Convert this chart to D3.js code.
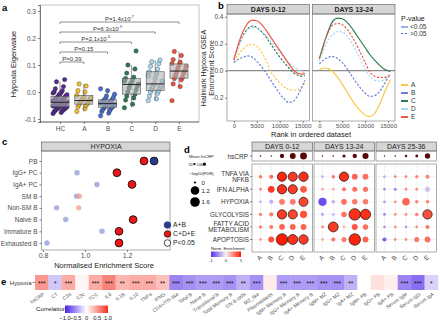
<!DOCTYPE html>
<html lang="en">
<head>
<meta charset="utf-8">
<title>Hypoxia multi-panel figure</title>
<script src="https://d3js.org/d3.v7.min.js"></script>
<style>
body { margin: 0; background: #fff; }
</style>
</head>
<body>
<script>
// ---------- data ----------
// panel a
const groups = ["HC", "A", "B", "C", "D", "E"];
const groupColors = ["#562a93", "#f5c02e", "#4c6fd6", "#2e7a55", "#a9d9f2", "#f0533b"];
const eigenHC = [-0.08, -0.076, -0.073, -0.07, -0.068, -0.066, -0.064, -0.062, -0.06, -0.058, -0.057, -0.055, -0.054, -0.052,
  -0.05, -0.049, -0.048, -0.046, -0.045, -0.044, -0.043, -0.042, -0.04, -0.038, -0.036, -0.035, -0.033, -0.031, -0.03,
  -0.028, -0.026, -0.024, -0.022, -0.02, -0.018, -0.015, -0.012, -0.01, -0.007, -0.004, -0.002, 0.0, 0.005, 0.012, 0.02, 0.038, 0.046];
const eigenA = [-0.072, -0.062, -0.055, -0.05, -0.046, -0.042, -0.038, -0.035, -0.033, -0.03, -0.026, -0.022, -0.018, -0.012, 0.0, 0.005, 0.022, 0.03];
const eigenB = [-0.088, -0.078, -0.072, -0.068, -0.064, -0.06, -0.058, -0.056, -0.053, -0.05, -0.048, -0.046, -0.045, -0.043,
  -0.041, -0.039, -0.037, -0.035, -0.033, -0.03, -0.028, -0.025, -0.02, -0.015, -0.008, 0.005, 0.012];
const eigenC = [-0.058, -0.045, -0.03, -0.022, -0.015, -0.008, 0.0, 0.008, 0.015, 0.022, 0.028, 0.03, 0.034, 0.04, 0.045, 0.05, 0.055, 0.07, 0.085, 0.1, 0.152];
const eigenD = [-0.032, -0.025, -0.015, -0.005, 0.0, 0.005, 0.01, 0.015, 0.02, 0.022, 0.03, 0.04, 0.05, 0.06, 0.068, 0.075, 0.085, 0.095, 0.105, 0.112, 0.118];
const eigenE = [-0.032, 0.02, 0.03, 0.045, 0.05, 0.055, 0.062, 0.07, 0.075, 0.08, 0.088, 0.095, 0.1, 0.105, 0.11, 0.12, 0.135, 0.15];
const pLabels = [["P=0.39", ""], ["P=0.15", ""], ["P=2.1x10", "-6"], ["P=6.3x10", "-9"], ["P=1.4x10", "-7"]];
const pHeights = [0.111, 0.148, 0.185, 0.222, 0.259];

// panel b
const ranks = [0, 1000, 2000, 3000, 4000, 5000, 6000, 7000, 8000, 9000, 10000, 11000, 12000, 13000, 14000, 15000, 15500];
const esDays0A = [0.07, 0.12, 0.16, 0.19, 0.195, 0.18, 0.14, 0.08, -0.005, -0.05, -0.09, -0.12, -0.14, -0.145, -0.14, -0.11, -0.09];
const esDays0B = [0.06, 0.085, 0.1, 0.11, 0.1, 0.07, 0.03, -0.015, -0.07, -0.12, -0.17, -0.21, -0.235, -0.225, -0.18, -0.11, -0.07];
const esDays0C = [0.08, 0.18, 0.26, 0.31, 0.33, 0.32, 0.29, 0.25, 0.2, 0.15, 0.1, 0.06, 0.02, -0.015, -0.035, -0.04, -0.035];
const esDays0D = [0.08, 0.17, 0.25, 0.3, 0.32, 0.315, 0.29, 0.26, 0.22, 0.18, 0.14, 0.1, 0.06, 0.03, 0.01, -0.01, -0.02];
const esDays0E = [0.08, 0.2, 0.29, 0.35, 0.375, 0.37, 0.345, 0.3, 0.25, 0.2, 0.15, 0.1, 0.05, 0.005, -0.02, -0.025, -0.02];
const esDays13A = [0.005, 0.02, 0.015, -0.01, -0.05, -0.1, -0.155, -0.21, -0.26, -0.3, -0.33, -0.34, -0.32, -0.26, -0.18, -0.1, -0.065];
const esDays13B = [0.05, 0.08, 0.1, 0.105, 0.09, 0.06, 0.015, -0.035, -0.085, -0.13, -0.165, -0.19, -0.185, -0.16, -0.11, -0.05, -0.03];
const esDays13C = [0.09, 0.2, 0.3, 0.37, 0.39, 0.385, 0.36, 0.32, 0.27, 0.22, 0.17, 0.12, 0.08, 0.045, 0.015, 0.0, -0.005];
const esDays13D = [0.07, 0.16, 0.23, 0.27, 0.29, 0.285, 0.26, 0.21, 0.15, 0.08, 0.01, -0.04, -0.07, -0.078, -0.07, -0.045, -0.03];
const esDays13E = [0.09, 0.2, 0.29, 0.34, 0.35, 0.34, 0.31, 0.26, 0.2, 0.13, 0.06, -0.01, -0.04, -0.05, -0.05, -0.04, -0.03];
const sigDays0 = ["E"];
const sigDays13 = ["A", "C"];
const lineColors = ["#f7c948", "#6a7fd6", "#2e7a55", "#a9d9f2", "#ee5a45"];

// panel c
const cellTypes = ["PB", "IgG+ PC", "IgA+ PC", "SM B", "Non-SM B", "Naive B", "Immature B", "Exhausted B"];
const nesAB = [1.329, 0.962, 1.057, 0.96, 0.865, 0.908, 1.081, 0.819];
const nesCDE = [1.281, 1.152, 1.224, 0.973, 0.97, 1.229, 1.162, 1.162];
const sigAB = [1, 0, 0, 0, 0, 0, 0, 0];
const sigCDE = [1, 1, 1, 0, 0, 1, 1, 1];

// panel d
const pathways = ["TNFA VIA|NFKB", "IFN ALPHA", "HYPOXIA", "GLYCOLYSIS", "FATTY ACID|METABOLISM", "APOPTOSIS"];
const dayWindows = ["DAYS 0-12", "DAYS 13-24", "DAYS 25-36"];
const severity = ["A", "B", "C", "D", "E"];
const meanCRP = [[25, 20, 182, 342, 462], [20, 25, 100, 182, 361], [20, 25, 56, 81, 272]];
const nesDays0 = [[0.55, 0.6, 0.95, 0.85, 0.9], [0.45, 0.85, 0.9, 0.85, 0.7], [-0.3, -0.35, 0.55, 0.55, 0.8],
  [0.5, 0.55, 0.85, 0.8, 0.75], [0.5, 0.55, 0.65, 0.65, 0.65], [0.4, 0.75, 1.0, 0.9, 0.85]];
const nesDays13 = [[-0.3, 0.55, 0.9, 0.65, 0.6], [0.3, 0.3, 0.55, 0.6, 0.6], [-0.85, -0.35, 0.6, 0.55, 0.55],
  [-0.45, -0.3, 0.6, 0.9, 0.9], [0.5, 0.85, 0.25, 0.7, 0.6], [0.3, 0.55, 0.55, 0.95, 0.65]];
const nesDays25 = [[-0.35, 0.5, 0.5, 0.5, 0.5], [-0.45, -0.55, 0.45, 0.45, -0.25], [-0.45, 0.45, 0.65, 0.5, 0.5],
  [-0.55, 0.45, 0.45, 0.5, 0.75], [-0.45, 0.45, -0.4, 0.45, 0.55], [-0.75, 0.45, 0.45, 0.55, 0.6]];
const fdrDays0 = [[0.04, 0.11, 1.45, 1.4, 1.5], [0.01, 0.6, 1.45, 1.4, 0.6], [0.01, 0.1, 0.38, 0.38, 1.35],
  [0.04, 0.1, 1.45, 1.4, 0.7], [0.04, 0.1, 0.35, 0.38, 0.4], [0.01, 0.4, 2.5, 1.7, 1.5]];
const fdrDays13 = [[0.01, 0.04, 1.45, 0.38, 0.38], [0.01, 0.01, 0.12, 0.23, 0.25], [1.05, 0.05, 0.38, 0.3, 0.3],
  [0.01, 0.01, 0.3, 2.5, 1.9], [0.01, 1.7, 0.01, 0.4, 0.3], [0.01, 0.12, 0.25, 2.5, 0.4]];
const fdrDays25 = [[0.01, 0.01, 0.01, 0.04, 0.1], [0.01, 0.02, 0.01, 0.01, 0.25], [0.01, 0.01, 0.8, 0.05, 0.05],
  [0.01, 0.01, 0.01, 0.05, 1.45], [0.01, 0.01, 0.01, 0.01, 0.1], [0.12, 0.01, 0.01, 0.25, 0.38]];

// panel e
const features = ["hsCRP", "CT", "C3a", "C3c", "TCC", "IL6", "IL1B", "IL10", "TNFa", "IFNG", "CD4+/Tfh-like", "Total B",
  "Naive B", "Transitional B", "Total Memory B", "DN B cells", "MZ_like", "Plasmablasts", "IgM+ Memory B", "IgG+ Memory B",
  "IgA+ Memory B", "IgM+ MZ", "IgG+ MZ", "IgA+ MZ", "IgM+ PB", "IgG+ PB", "IgA+ PB", "Serum IgM", "Serum IgG", "Serum IgA"];
const corr = [0.5, -0.25, 0.4, 0.05, 0.4, 0.6, 0.35, 0.4, 0.4, 0.3, -0.55, -0.5, -0.45, -0.45, -0.5, -0.35, -0.5, 0.1,
  -0.45, -0.45, -0.45, -0.5, -0.5, -0.35, 0.0, 0.15, 0.08, -0.55, -0.65, -0.2];
const stars = ["***", "*", "***", "", "***", "***", "**", "***", "***", "**", "***", "***", "***", "***", "***", "**", "***", "",
  "***", "***", "***", "***", "***", "**", "", "", "", "***", "***", "*"];

// ---------- setup ----------
const FONT = "Liberation Sans, Arial, Helvetica, sans-serif";
const svg = d3.select("body").append("svg")
  .attr("width", 440).attr("height", 322)
  .attr("font-family", FONT);
const defs = svg.append("defs");

function styleAxis(g, fs) {
  g.attr("font-family", FONT);
  g.select(".domain").attr("stroke", "#333").attr("stroke-width", 0.6);
  g.selectAll(".tick line").attr("stroke", "#333").attr("stroke-width", 0.6);
  g.selectAll(".tick text").attr("font-size", fs || 6.5).attr("fill", "#4d4d4d");
}
function panelLetter(t, x, y) {
  svg.append("text").attr("x", x).attr("y", y).attr("font-size", 9.5).attr("font-weight", "bold").text(t);
}
const hyph = d3.format(".1f");
const fmt1 = d => hyph(d).replace("−", "-");

// ---------- panel a ----------
panelLetter("a", 2, 11);
const xA = d3.scalePoint().domain(groups).range([60, 179]);
const yA = d3.scaleLinear().domain([-0.111, 0.322]).range([122, 5]);

svg.append("rect").attr("x", 40).attr("y", 5).attr("width", 159).attr("height", 117)
  .attr("fill", "none").attr("stroke", "#aaa").attr("stroke-width", 0.7);
styleAxis(svg.append("g").attr("transform", "translate(40,0)")
  .call(d3.axisLeft(yA).tickValues([-0.1, 0, 0.1, 0.2, 0.3]).tickFormat(fmt1).tickSize(2).tickPadding(2)));
styleAxis(svg.append("g").attr("transform", "translate(0,122)")
  .call(d3.axisBottom(xA).tickSize(2).tickPadding(2)).call(g => g.select(".domain").attr("d", "M40,0H199")));
svg.append("text").attr("transform", "translate(16,64) rotate(-90)").attr("text-anchor", "middle")
  .attr("font-size", 7.5).attr("fill", "#222").text("Hypoxia Eigenvalue");

const eigen = [eigenHC, eigenA, eigenB, eigenC, eigenD, eigenE];
const jit = i => ((i * 7) % 13 - 6) / 6 * 7;
eigen.forEach((vals, gi) => {
  const cx = xA(groups[gi]);
  vals.forEach((v, i) => {
    svg.append("circle").attr("cx", cx + jit(i)).attr("cy", yA(v)).attr("r", 2.2)
      .attr("fill", groupColors[gi]).attr("stroke", "#222").attr("stroke-width", 0.35);
  });
  const s = vals.slice().sort(d3.ascending);
  const q1 = d3.quantile(s, 0.25), med = d3.quantile(s, 0.5), q3 = d3.quantile(s, 0.75);
  const iqr = q3 - q1;
  const lo = d3.min(s.filter(v => v >= q1 - 1.5 * iqr));
  const hi = d3.max(s.filter(v => v <= q3 + 1.5 * iqr));
  const g = svg.append("g").attr("stroke", "#555").attr("stroke-width", 0.6);
  g.append("line").attr("x1", cx).attr("x2", cx).attr("y1", yA(hi)).attr("y2", yA(q3));
  g.append("line").attr("x1", cx).attr("x2", cx).attr("y1", yA(q1)).attr("y2", yA(lo));
  g.append("rect").attr("x", cx - 9).attr("width", 18).attr("y", yA(q3)).attr("height", yA(q1) - yA(q3))
    .attr("fill", "#b0b0b0").attr("fill-opacity", 0.6);
  g.append("line").attr("x1", cx - 9).attr("x2", cx + 9).attr("y1", yA(med)).attr("y2", yA(med))
    .attr("stroke", "#222").attr("stroke-width", 1);
});
pHeights.forEach((h, i) => {
  const x1 = xA("HC"), x2 = xA(groups[i + 1]), y = yA(h);
  svg.append("path").attr("d", `M${x1},${y + 2}V${y}H${x2}V${y + 2}`)
    .attr("fill", "none").attr("stroke", "#444").attr("stroke-width", 0.6);
  const t = svg.append("text").attr("x", (x1 + x2) / 2).attr("y", y - 1.5).attr("text-anchor", "middle")
    .attr("font-size", 6).attr("fill", "#333");
  t.append("tspan").text(pLabels[i][0]);
  if (pLabels[i][1]) t.append("tspan").attr("dy", -2.2).attr("font-size", 4).text(pLabels[i][1]);
});

// ---------- panel b ----------
panelLetter("b", 218, 9);
const yB = d3.scaleLinear().domain([0, 0.4]).range([70.7, 16.7]);
const facetsB = [
  { x0: 227, title: "DAYS 0-12", series: [esDays0A, esDays0B, esDays0C, esDays0D, esDays0E], sig: sigDays0 },
  { x0: 312.5, title: "DAYS 13-24", series: [esDays13A, esDays13B, esDays13C, esDays13D, esDays13E], sig: sigDays13 }
];
const fwB = 82.5;
const bBottom = 121;
facetsB.forEach((f, fi) => {
  const xB = d3.scaleLinear().domain([-1500, 16500]).range([f.x0, f.x0 + fwB]);
  svg.append("rect").attr("x", f.x0).attr("y", 4.5).attr("width", fwB).attr("height", 9.5)
    .attr("fill", "#d6d6d6").attr("stroke", "#555").attr("stroke-width", 0.6);
  svg.append("text").attr("x", f.x0 + fwB / 2).attr("y", 12).attr("text-anchor", "middle")
    .attr("font-size", 7).attr("font-weight", "bold").attr("fill", "#222").text(f.title);
  svg.append("line").attr("x1", f.x0).attr("x2", f.x0 + fwB).attr("y1", yB(0)).attr("y2", yB(0))
    .attr("stroke", "#8c8c8c").attr("stroke-width", 1.2);
  const line = d3.line().x((d, i) => xB(ranks[i])).y(d => yB(d)).curve(d3.curveMonotoneX);
  f.series.forEach((s, si) => {
    const solid = f.sig.includes(severity[si]);
    svg.append("path").attr("d", line(s)).attr("fill", "none").attr("stroke", lineColors[si])
      .attr("stroke-width", 1.2).attr("stroke-dasharray", solid ? null : "2.2,1.6");
  });
  svg.append("rect").attr("x", f.x0).attr("y", 14).attr("width", fwB).attr("height", bBottom - 14)
    .attr("fill", "none").attr("stroke", "#777").attr("stroke-width", 0.6);
  styleAxis(svg.append("g").attr("transform", `translate(0,${bBottom})`)
    .call(d3.axisBottom(xB).tickValues([0, 5000, 10000, 15000]).tickFormat(d3.format("d")).tickSize(2).tickPadding(1))
    .call(g => g.select(".domain").remove()), 6);
  if (fi === 0) {
    styleAxis(svg.append("g").attr("transform", `translate(${f.x0},0)`)
      .call(d3.axisLeft(yB).tickValues([-0.2, 0, 0.2, 0.4]).tickFormat(fmt1).tickSize(2).tickPadding(1.5))
      .call(g => g.select(".domain").remove()));
  }
});
svg.append("text").attr("x", 311).attr("y", 137).attr("text-anchor", "middle").attr("font-size", 7.5)
  .attr("fill", "#222").text("Rank in ordered dataset");
svg.append("text").attr("transform", "translate(206,68) rotate(-90)").attr("text-anchor", "middle")
  .attr("font-size", 7).attr("fill", "#222")
  .call(t => {
    t.append("tspan").attr("x", 0).attr("dy", 0).text("Hallmark Hypoxia GSEA");
    t.append("tspan").attr("x", 0).attr("dy", 8).text("Enrichment Score");
  });
// legends b
svg.append("text").attr("x", 401).attr("y", 21).attr("font-size", 7).attr("fill", "#222").text("P-value");
[["<0.05", null], [">0.05", "2.2,1.6"]].forEach((d, i) => {
  const y = 27 + i * 6.5;
  svg.append("line").attr("x1", 401).attr("x2", 408).attr("y1", y).attr("y2", y)
    .attr("stroke", "#4c6fd6").attr("stroke-width", 1.1).attr("stroke-dasharray", d[1]);
  svg.append("text").attr("x", 410).attr("y", y + 2.3).attr("font-size", 6.5).attr("fill", "#333").text(d[0]);
});
severity.forEach((s, i) => {
  const y = 85 + i * 8;
  svg.append("line").attr("x1", 401).attr("x2", 408).attr("y1", y).attr("y2", y)
    .attr("stroke", lineColors[i]).attr("stroke-width", 2);
  svg.append("text").attr("x", 411).attr("y", y + 2.4).attr("font-size", 6.5).attr("fill", "#333").text(s);
});

// ---------- panel c ----------
panelLetter("c", 2, 145);
const xC = d3.scaleLinear().domain([0.8, 1.2]).range([43, 127]);
const yC = d3.scalePoint().domain(cellTypes).range([161, 243]);
svg.append("rect").attr("x", 41.5).attr("y", 142).attr("width", 128.5).attr("height", 9)
  .attr("fill", "#d6d6d6").attr("stroke", "#555").attr("stroke-width", 0.6);
svg.append("text").attr("x", 106).attr("y", 149.3).attr("text-anchor", "middle").attr("font-size", 7)
  .attr("fill", "#222").text("HYPOXIA");
svg.append("rect").attr("x", 41.5).attr("y", 151).attr("width", 128.5).attr("height", 99)
  .attr("fill", "none").attr("stroke", "#777").attr("stroke-width", 0.6);
styleAxis(svg.append("g").attr("transform", "translate(41.5,0)")
  .call(d3.axisLeft(yC).tickSize(2).tickPadding(2)).call(g => g.select(".domain").remove()));
styleAxis(svg.append("g").attr("transform", "translate(0,250)")
  .call(d3.axisBottom(xC).tickValues([0.8, 1.0, 1.2]).tickFormat(fmt1).tickSize(2).tickPadding(1.5))
  .call(g => g.select(".domain").remove()), 7);
svg.append("text").attr("x", 104).attr("y", 268).attr("text-anchor", "middle").attr("font-size", 7.5)
  .attr("fill", "#222").text("Normalised Enrichment Score");
function cDot(x, y, sig, col, colLight) {
  svg.append("circle").attr("cx", x).attr("cy", y).attr("r", sig ? 3.9 : 2.7)
    .attr("fill", sig ? col : colLight).attr("fill-opacity", sig ? 1 : 0.75)
    .attr("stroke", sig ? "#111" : "none").attr("stroke-width", 0.9);
}
cellTypes.forEach((c, i) => {
  cDot(xC(nesAB[i]), yC(c), sigAB[i], "#2b3990", "#8d9bd6");
  cDot(xC(nesCDE[i]), yC(c), sigCDE[i], "#f01414", "#f49a90");
});
[["A+B", "#2b3990", "#2b3990"], ["C+D+E", "#f01414", "#222"], ["P<0.05", "#fff", "#222"]].forEach((d, i) => {
  const y = 225 + i * 9;
  svg.append("circle").attr("cx", 167.5).attr("cy", y).attr("r", 3.3).attr("fill", d[1])
    .attr("stroke", d[2]).attr("stroke-width", 0.8);
  svg.append("text").attr("x", 173).attr("y", y + 2.4).attr("font-size", 6.8).attr("fill", "#222").text(d[0]);
});

// ---------- panel d ----------
panelLetter("d", 184, 153);
const colNES = d3.scaleLinear().domain([-1, 0, 1]).range(["#5530f0", "#f6f0f0", "#ff1a00"]);
const rFDR = d3.scaleSqrt().domain([0, 1.6]).range([1.1, 4.8]);
const rCRP = d3.scaleSqrt().domain([0, 100]).range([0, 1.6]);
const yD = d3.scalePoint().domain(pathways).range([176.7, 239.5]);
const facetsD = [
  { x0: 252, nes: nesDays0, fdr: fdrDays0 },
  { x0: 314, nes: nesDays13, fdr: fdrDays13 },
  { x0: 376, nes: nesDays25, fdr: fdrDays25 }
];
const fwD = 60.5;
facetsD.forEach((f, fi) => {
  const xD = d3.scalePoint().domain(severity).range([f.x0 + 8.5, f.x0 + 51.5]);
  svg.append("rect").attr("x", f.x0).attr("y", 142).attr("width", fwD).attr("height", 9)
    .attr("fill", "#d6d6d6").attr("stroke", "#555").attr("stroke-width", 0.6);
  svg.append("text").attr("x", f.x0 + fwD / 2).attr("y", 149.3).attr("text-anchor", "middle")
    .attr("font-size", 7).attr("fill", "#222").text(dayWindows[fi]);
  svg.append("rect").attr("x", f.x0).attr("y", 151).attr("width", fwD).attr("height", 10)
    .attr("fill", "none").attr("stroke", "#777").attr("stroke-width", 0.6);
  severity.forEach((s, si) => {
    svg.append("line").attr("x1", xD(s)).attr("x2", xD(s)).attr("y1", 164).attr("y2", 252)
      .attr("stroke", "#ebebeb").attr("stroke-width", 0.6);
    svg.append("circle").attr("cx", xD(s)).attr("cy", 156).attr("r", rCRP(meanCRP[fi][si])).attr("fill", "#5a0a0a");
    svg.append("text").attr("transform", `translate(${xD(s) + 2},${258}) rotate(-45)`).attr("text-anchor", "end")
      .attr("font-size", 6.5).attr("fill", "#4d4d4d").text(s);
  });
  pathways.forEach(p => {
    svg.append("line").attr("x1", f.x0).attr("x2", f.x0 + fwD).attr("y1", yD(p)).attr("y2", yD(p))
      .attr("stroke", "#ebebeb").attr("stroke-width", 0.6);
  });
  pathways.forEach((p, pi) => {
    severity.forEach((s, si) => {
      const fdr = f.fdr[pi][si];
      svg.append("circle").attr("cx", xD(s)).attr("cy", yD(p)).attr("r", rFDR(fdr))
        .attr("fill", colNES(f.nes[pi][si]))
        .attr("stroke", fdr >= 1.3 ? "#222" : "none").attr("stroke-width", 0.8);
    });
  });
  svg.append("rect").attr("x", f.x0).attr("y", 164).attr("width", fwD).attr("height", 88)
    .attr("fill", "none").attr("stroke", "#777").attr("stroke-width", 0.6);
});
svg.append("text").attr("x", 248).attr("y", 158.5).attr("text-anchor", "end").attr("font-size", 6.5)
  .attr("fill", "#333").text("hsCRP");
svg.append("line").attr("x1", 250).attr("x2", 252).attr("y1", 156).attr("y2", 156).attr("stroke", "#333").attr("stroke-width", 0.6);
pathways.forEach(p => {
  const parts = p.split("|");
  const y = yD(p);
  const t = svg.append("text").attr("text-anchor", "end").attr("font-size", 6.3).attr("fill", "#333");
  parts.forEach((s, k) => {
    t.append("tspan").attr("x", 249).attr("y", y + 2.3 + (k - (parts.length - 1) / 2) * 6.3).text(s);
  });
  svg.append("line").attr("x1", 250).attr("x2", 252).attr("y1", y).attr("y2", y).attr("stroke", "#333").attr("stroke-width", 0.6);
});
// legends d
svg.append("text").attr("x", 189).attr("y", 158).attr("font-size", 4.2).attr("fill", "#222").text("Mean hsCRP");
svg.append("text").attr("x", 188.5).attr("y", 165.5).attr("font-size", 3.8).attr("fill", "#222").text("50");
svg.append("circle").attr("cx", 194.4).attr("cy", 164.2).attr("r", rCRP(50)).attr("fill", "#111");
svg.append("text").attr("x", 196.6).attr("y", 165.5).attr("font-size", 3.8).attr("fill", "#222").text("100");
svg.append("circle").attr("cx", 204.4).attr("cy", 164.2).attr("r", rCRP(100)).attr("fill", "#111");
svg.append("text").attr("x", 189.5).attr("y", 175).attr("font-size", 4.2).attr("fill", "#222").text("−log10(FDR)");
[[0, 182.5], [1.2, 190.5], [1.6, 202]].forEach(d => {
  svg.append("circle").attr("cx", 195).attr("cy", d[1]).attr("r", rFDR(d[0])).attr("fill", "#000");
  svg.append("text").attr("x", 201.5).attr("y", d[1] + 2).attr("font-size", 6).attr("fill", "#222").text(d[0] === 0 ? "0" : d[0].toFixed(1));
});
svg.append("text").attr("x", 211).attr("y", 249.5).attr("font-size", 4.2).attr("fill", "#222").text("Norm. Enrichment");
const gradD = defs.append("linearGradient").attr("id", "gradD");
[-1, -0.5, 0, 0.5, 1].forEach(v => gradD.append("stop").attr("offset", (v + 1) / 2).attr("stop-color", colNES(v)));
svg.append("rect").attr("x", 211).attr("y", 251.5).attr("width", 30).attr("height", 5.5).attr("fill", "url(#gradD)");
[[-1, "-1"], [0, "0"], [1, "1"]].forEach(d => {
  svg.append("text").attr("x", 211 + (d[0] + 1) / 2 * 30).attr("y", 262).attr("text-anchor", "middle")
    .attr("font-size", 4.2).attr("fill", "#222").text(d[1]);
});

// ---------- panel e ----------
panelLetter("e", 1, 285);
const colCorr = d3.scaleLinear().domain([-1, 0, 1]).range(["#4a20e8", "#ffffff", "#f5301e"]);
const xE = d3.scaleBand().domain(features).range([35, 438]);
features.forEach((f, i) => {
  const x = xE(f);
  svg.append("rect").attr("x", x).attr("y", 275).attr("width", xE.bandwidth() + 0.3).attr("height", 15)
    .attr("fill", colCorr(corr[i]));
  if (stars[i]) svg.append("text").attr("x", x + xE.bandwidth() / 2).attr("y", 286).attr("text-anchor", "middle")
    .attr("font-size", 6.5).attr("fill", "#111").text(stars[i]);
  svg.append("text").attr("transform", `translate(${x + xE.bandwidth() / 2 + 3},${295}) rotate(-35)`)
    .attr("text-anchor", "end").attr("font-size", 5).attr("fill", "#555").text(f);
});
svg.append("text").attr("x", 31.5).attr("y", 284.5).attr("text-anchor", "end").attr("font-size", 6)
  .attr("fill", "#333").text("Hypoxia");
svg.append("line").attr("x1", 32.5).attr("x2", 35).attr("y1", 282.5).attr("y2", 282.5).attr("stroke", "#333").attr("stroke-width", 0.6);
svg.append("text").attr("x", 36).attr("y", 311).attr("font-size", 6.2).attr("fill", "#222").text("Correlation");
const gradE = defs.append("linearGradient").attr("id", "gradE");
[-1, -0.5, 0, 0.5, 1].forEach(v => gradE.append("stop").attr("offset", (v + 1) / 2).attr("stop-color", colCorr(v)));
svg.append("rect").attr("x", 65).attr("y", 305.5).attr("width", 43).attr("height", 7.5).attr("fill", "url(#gradE)");
[-1, -0.5, 0, 0.5, 1].forEach(v => {
  svg.append("text").attr("x", 65 + (v + 1) / 2 * 43).attr("y", 319.5).attr("text-anchor", "middle")
    .attr("font-size", 5.8).attr("fill", "#222").text(v === 0 ? "0" : (v < 0 ? "−" : "") + Math.abs(v).toFixed(1));
});
</script>
</body>
</html>
